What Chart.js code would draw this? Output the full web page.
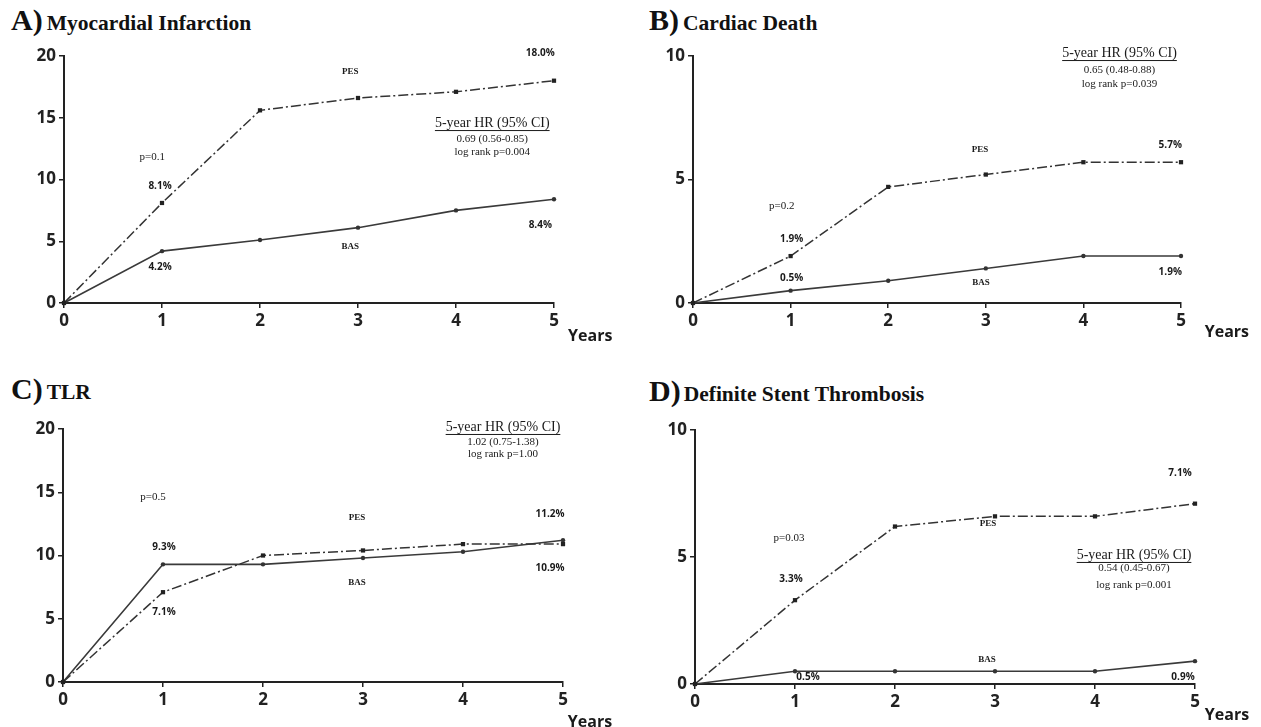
<!DOCTYPE html>
<html>
<head>
<meta charset="utf-8">
<script src="https://cdn.jsdelivr.net/npm/chart.js@4.4.1/dist/chart.umd.min.js"></script>
<style>
  body { margin: 0; background: #fff; width: 1261px; height: 727px; position: relative; overflow: hidden; }
  .panel { position: absolute; }
  .title { position: absolute; font-family: "Liberation Serif", serif; font-weight: bold; color: #111; white-space: nowrap; line-height: 30px; }
  .title .lt { font-size: 30px; }
  .title .tx { font-size: 21.5px; }
</style>
</head>
<body>
<div class="title" style="left:11px;top:5px"><span class="lt">A)</span> <span class="tx">Myocardial Infarction</span></div>
<div class="title" style="left:649px;top:5px"><span class="lt">B)</span> <span class="tx">Cardiac Death</span></div>
<div class="title" style="left:11px;top:374px"><span class="lt">C)</span> <span class="tx">TLR</span></div>
<div class="title" style="left:649px;top:376px"><span class="lt">D)</span><span class="tx" style="margin-left:3px">Definite Stent Thrombosis</span></div>

<canvas id="cA" class="panel"></canvas>
<canvas id="cB" class="panel"></canvas>
<canvas id="cC" class="panel"></canvas>
<canvas id="cD" class="panel"></canvas>

<script>
// x axis: years of follow-up
const years = [0, 1, 2, 3, 4, 5];

// A) Myocardial Infarction
const miPES = [0, 8.1, 15.6, 16.6, 17.1, 18.0];
const miBAS = [0, 4.2, 5.1, 6.1, 7.5, 8.4];
// B) Cardiac Death
const cdPES = [0, 1.9, 4.7, 5.2, 5.7, 5.7];
const cdBAS = [0, 0.5, 0.9, 1.4, 1.9, 1.9];
// C) TLR
const tlrPES = [0, 7.1, 10.0, 10.4, 10.9, 10.9];
const tlrBAS = [0, 9.3, 9.3, 9.8, 10.3, 11.2];
// D) Definite Stent Thrombosis
const stPES = [0, 3.3, 6.2, 6.6, 6.6, 7.1];
const stBAS = [0, 0.5, 0.5, 0.5, 0.5, 0.9];

// y tick maxima
const yMaxA = 20, yMaxB = 10, yMaxC = 20, yMaxD = 10;

// text notes, placed in data units: [text, x, y, kind]
const notesA = [
  ['PES', 2.92, 18.7, 'tag'], ['18.0%', 4.86, 20.25, 'pct'],
  ['5-year HR (95% CI)', 4.37, 14.57, 'hr'], ['0.69 (0.56-0.85)', 4.37, 13.28, 'sm'], ['log rank p=0.004', 4.37, 12.23, 'sm'],
  ['p=0.1', 0.9, 11.82, 'p'], ['8.1%', 0.98, 9.47, 'pct'], ['4.2%', 0.98, 2.91, 'pct'],
  ['BAS', 2.92, 4.53, 'tag'], ['8.4%', 4.86, 6.32, 'pct'], ['Years', 5.37, -2.67, 'yr']
];
const notesB = [
  ['5-year HR (95% CI)', 4.37, 10.12, 'hr'], ['0.65 (0.48-0.88)', 4.37, 9.43, 'sm'], ['log rank p=0.039', 4.37, 8.87, 'sm'],
  ['PES', 2.94, 6.19, 'tag'], ['5.7%', 4.89, 6.4, 'pct'], ['p=0.2', 0.91, 3.93, 'p'],
  ['1.9%', 1.01, 2.59, 'pct'], ['0.5%', 1.01, 1.01, 'pct'], ['BAS', 2.95, 0.81, 'tag'],
  ['1.9%', 4.89, 1.26, 'pct'], ['Years', 5.47, -1.21, 'yr']
];
const notesC = [
  ['5-year HR (95% CI)', 4.4, 20.16, 'hr'], ['1.02 (0.75-1.38)', 4.4, 18.93, 'sm'], ['log rank p=1.00', 4.4, 17.98, 'sm'],
  ['p=0.5', 0.9, 14.58, 'p'], ['PES', 2.94, 13.0, 'tag'], ['11.2%', 4.87, 13.24, 'pct'],
  ['9.3%', 1.01, 10.63, 'pct'], ['BAS', 2.94, 7.87, 'tag'], ['10.9%', 4.87, 8.97, 'pct'],
  ['7.1%', 1.01, 5.49, 'pct'], ['Years', 5.27, -3.2, 'yr']
];
const notesD = [
  ['7.1%', 4.85, 8.31, 'pct'], ['p=0.03', 0.94, 5.75, 'p'], ['PES', 2.93, 6.3, 'tag'],
  ['5-year HR (95% CI)', 4.39, 5.08, 'hr'], ['0.54 (0.45-0.67)', 4.39, 4.57, 'sm'], ['log rank p=0.001', 4.39, 3.9, 'sm'],
  ['3.3%', 0.96, 4.13, 'pct'], ['BAS', 2.92, 0.94, 'tag'], ['0.5%', 1.13, 0.28, 'pct'],
  ['0.9%', 4.88, 0.28, 'pct'], ['Years', 5.32, -1.22, 'yr']
];

const fonts = {
  tag: 'bold 9px "Liberation Serif"',
  p: '11px "Liberation Serif"',
  sm: '11px "Liberation Serif"',
  hr: '14px "Liberation Serif"',
  pct: 'bold 10px "Open Sans"',
  yr: 'bold 16px "Open Sans"'
};

const notesPlugin = {
  id: 'notes',
  afterDatasetsDraw(chart, args, opts) {
    const ctx = chart.ctx;
    const xs = chart.scales.x, ys = chart.scales.y;
    ctx.save();
    ctx.fillStyle = '#1a1a1a';
    ctx.strokeStyle = '#1a1a1a';
    ctx.textAlign = 'center';
    ctx.textBaseline = 'middle';
    opts.items.forEach(([t, nx, ny, kind]) => {
      const px = xs.getPixelForValue(nx), py = ys.getPixelForValue(ny);
      ctx.font = fonts[kind];
      ctx.fillText(t, px, py);
      if (kind === 'hr') {
        const w = ctx.measureText(t).width;
        ctx.lineWidth = 1;
        ctx.beginPath();
        ctx.moveTo(px - w / 2, py + 7.5);
        ctx.lineTo(px + w / 2, py + 7.5);
        ctx.stroke();
      }
    });
    ctx.restore();
  }
};

function makePanel(id, box, area, pes, bas, yMax, notes) {
  const cv = document.getElementById(id);
  cv.style.left = box.l + 'px';
  cv.style.top = box.t + 'px';
  cv.style.width = box.w + 'px';
  cv.style.height = box.h + 'px';
  cv.width = box.w; cv.height = box.h;
  const xH = 32;
  const pad = {
    top: area.t - box.t,
    left: 0,
    right: box.l + box.w - area.r,
    bottom: box.t + box.h - area.b - xH
  };
  const yW = area.l - box.l;
  const axisGrid = { drawOnChartArea: false, drawTicks: true, tickLength: 5, color: '#222', lineWidth: 1.5 };
  const tickFont = { family: 'Open Sans', weight: 'bold', size: 17 };
  new Chart(cv, {
    type: 'line',
    data: {
      datasets: [
        {
          label: 'PES',
          data: years.map((x, i) => ({ x: x, y: pes[i] })),
          borderColor: '#333', borderWidth: 1.5, borderDash: [10, 3, 2, 3],
          pointStyle: 'rect', pointRadius: 3, pointBackgroundColor: '#222', pointBorderWidth: 0,
          tension: 0, clip: false
        },
        {
          label: 'BAS',
          data: years.map((x, i) => ({ x: x, y: bas[i] })),
          borderColor: '#3a3a3a', borderWidth: 1.6,
          pointStyle: 'circle', pointRadius: 2.2, pointBackgroundColor: '#333', pointBorderWidth: 0,
          tension: 0, clip: false
        }
      ]
    },
    options: {
      responsive: false,
      animation: false,
      events: [],
      layout: { padding: pad },
      plugins: { legend: { display: false }, tooltip: { enabled: false }, notes: { items: notes } },
      scales: {
        x: {
          type: 'linear', min: 0, max: 5,
          afterFit: s => { s.height = xH; },
          ticks: { stepSize: 1, color: '#222', font: tickFont, padding: 3 },
          grid: axisGrid,
          border: { color: '#222', width: 2 }
        },
        y: {
          min: 0, max: yMax,
          afterFit: s => { s.width = yW; },
          ticks: { stepSize: 5, color: '#222', font: tickFont, padding: 3 },
          grid: axisGrid,
          border: { color: '#222', width: 2 }
        }
      }
    },
    plugins: [notesPlugin]
  });
}

makePanel('cA', { l: 0, t: 36, w: 625, h: 324 }, { l: 64, r: 554, t: 56, b: 303 }, miPES, miBAS, yMaxA, notesA);
makePanel('cB', { l: 630, t: 36, w: 631, h: 324 }, { l: 693, r: 1181, t: 56, b: 303 }, cdPES, cdBAS, yMaxB, notesB);
makePanel('cC', { l: 0, t: 405, w: 625, h: 322 }, { l: 63, r: 563, t: 429, b: 682 }, tlrPES, tlrBAS, yMaxC, notesC);
makePanel('cD', { l: 630, t: 405, w: 631, h: 322 }, { l: 695, r: 1195, t: 430, b: 684 }, stPES, stBAS, yMaxD, notesD);
</script>
</body>
</html>
